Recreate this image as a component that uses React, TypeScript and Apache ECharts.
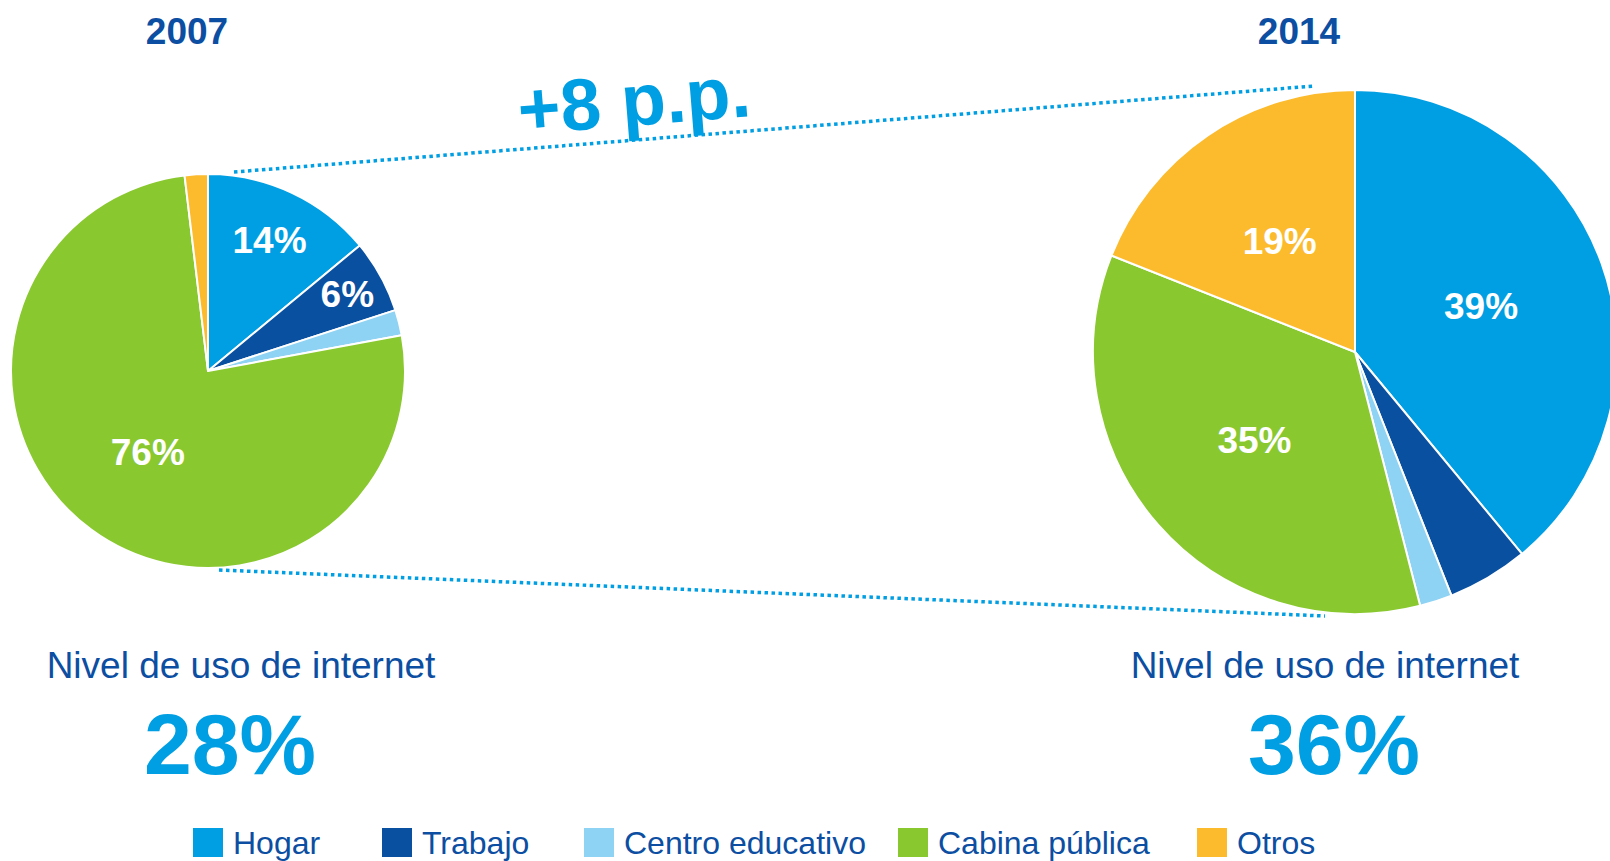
import React, { useEffect, useRef } from "react";
import * as echarts from "echarts";

const categories = ["Hogar", "Trabajo", "Centro educativo", "Cabina pública", "Otros"];
const colors = ["#009fe3", "#0a50a1", "#8ed2f4", "#8ac82f", "#fcbb2d"];
const values2007 = [14, 6, 2.1, 76, 1.9];
const values2014 = [39, 5, 2, 35, 19];
const labelShown2007 = [false, false, false, true, false];
const labelMid2007 = [true, false, false, false, false];
const labelOuter2007 = [false, true, false, false, false];
const labelShown2014 = [true, false, false, true, true];
const years = ["2007", "2014"];
const usage = ["28%", "36%"];
const usageTitle = "Nivel de uso de internet";
const changeText = "+8 p.p.";

const FONT = '"Liberation Sans", Arial, sans-serif';
const DARK = "#0b4ea2";
const LIGHT = "#009fe3";

function buildData(values: number[], shown: boolean[]) {
  return values.map((v, i) => ({
    name: categories[i],
    value: v,
    itemStyle: { color: colors[i] },
    label: { show: shown[i] },
  }));
}

function buildLabelData(values: number[], shown: boolean[]) {
  return values.map((v, i) => ({
    name: categories[i],
    value: v,
    itemStyle: { color: "rgba(0,0,0,0)" },
    label: { show: shown[i] },
  }));
}

export default function App() {
  const ref = useRef<HTMLDivElement>(null);
  useEffect(() => {
    document.body.style.margin = "0";
    if (!ref.current) return;
    const chart = echarts.init(ref.current, undefined, { renderer: "svg" });
    const labelStyle = {
      position: "inside" as const,
      color: "#ffffff",
      fontSize: 37,
      fontWeight: "bold" as const,
      fontFamily: FONT,
      formatter: (p: any) => `${Math.round(p.value)}%`,
    };
    const legendLefts = [191, 380, 582, 896, 1195];
    const overlay = (r0: number, shown: boolean[]) => ({
      type: "pie",
      center: [208, 371],
      radius: [r0, 197],
      startAngle: 90,
      clockwise: true,
      silent: true,
      legendHoverLink: false,
      itemStyle: { borderWidth: 0 },
      label: labelStyle,
      labelLine: { show: false },
      data: buildLabelData(values2007, shown),
    });
    const option: any = {
      animation: false,
      backgroundColor: "#ffffff",
      legend: categories.map((c, i) => ({
        data: [c],
        left: legendLefts[i],
        top: 826,
        padding: 0,
        itemWidth: 32,
        itemHeight: 31,
        icon: "rect",
        selectedMode: false,
        textStyle: {
          color: DARK,
          fontSize: 32,
          lineHeight: 31,
          fontFamily: FONT,
          padding: [0, 0, 0, 4],
        },
      })),
      series: [
        {
          type: "pie",
          center: [208, 371],
          radius: [0, 197],
          startAngle: 90,
          clockwise: true,
          silent: true,
          itemStyle: { borderColor: "#ffffff", borderWidth: 2 },
          label: labelStyle,
          labelLine: { show: false },
          data: buildData(values2007, labelShown2007),
        },
        overlay(86, labelMid2007),
        overlay(115, labelOuter2007),
        {
          type: "pie",
          center: [1355, 352],
          radius: [0, 262],
          startAngle: 90,
          clockwise: true,
          silent: true,
          itemStyle: { borderColor: "#ffffff", borderWidth: 2 },
          label: labelStyle,
          labelLine: { show: false },
          data: buildData(values2014, labelShown2014),
        },
      ],
      graphic: [
        {
          type: "line",
          shape: { x1: 234, y1: 172, x2: 1314, y2: 86 },
          style: { stroke: LIGHT, lineWidth: 3.5, lineDash: [3.5, 3.5] },
          z: 10,
        },
        {
          type: "line",
          shape: { x1: 219, y1: 570, x2: 1325, y2: 616 },
          style: { stroke: LIGHT, lineWidth: 3.5, lineDash: [3.5, 3.5] },
          z: 10,
        },
        {
          type: "text",
          x: 187,
          y: 31,
          style: {
            text: years[0],
            textAlign: "center",
            textVerticalAlign: "middle",
            fontSize: 37,
            fontWeight: "bold",
            fontFamily: FONT,
            fill: DARK,
          },
        },
        {
          type: "text",
          x: 1299,
          y: 31,
          style: {
            text: years[1],
            textAlign: "center",
            textVerticalAlign: "middle",
            fontSize: 37,
            fontWeight: "bold",
            fontFamily: FONT,
            fill: DARK,
          },
        },
        {
          type: "text",
          x: 634,
          y: 100,
          rotation: 0.079,
          style: {
            text: changeText,
            textAlign: "center",
            textVerticalAlign: "middle",
            fontSize: 73,
            fontWeight: "bold",
            fontFamily: FONT,
            fill: LIGHT,
          },
        },
        {
          type: "text",
          x: 241,
          y: 665,
          style: {
            text: usageTitle,
            textAlign: "center",
            textVerticalAlign: "middle",
            fontSize: 37,
            fontFamily: FONT,
            fill: DARK,
          },
        },
        {
          type: "text",
          x: 1325,
          y: 665,
          style: {
            text: usageTitle,
            textAlign: "center",
            textVerticalAlign: "middle",
            fontSize: 37,
            fontFamily: FONT,
            fill: DARK,
          },
        },
        {
          type: "text",
          x: 230,
          y: 744,
          style: {
            text: usage[0],
            textAlign: "center",
            textVerticalAlign: "middle",
            fontSize: 86,
            fontWeight: "bold",
            fontFamily: FONT,
            fill: LIGHT,
          },
        },
        {
          type: "text",
          x: 1334,
          y: 744,
          style: {
            text: usage[1],
            textAlign: "center",
            textVerticalAlign: "middle",
            fontSize: 86,
            fontWeight: "bold",
            fontFamily: FONT,
            fill: LIGHT,
          },
        },
      ],
    };
    chart.setOption(option);
    return () => chart.dispose();
  }, []);
  return <div ref={ref} style={{ width: 1610, height: 861 }} />;
}
